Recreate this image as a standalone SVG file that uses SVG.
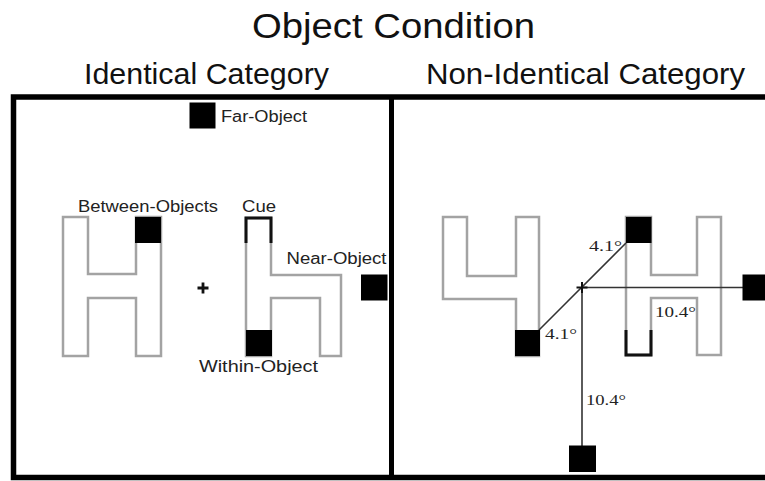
<svg xmlns="http://www.w3.org/2000/svg" width="765" height="481" viewBox="0 0 765 481">
<style>
.title{font-family:"Liberation Sans",Arial,sans-serif;fill:#111}
.lbl{font-family:"Liberation Sans",Arial,sans-serif;font-size:16px;fill:#222}
.deg{font-family:"Liberation Serif","Times New Roman",serif;font-size:15px;fill:#222}
.shape{fill:none;stroke:#a3a3a3;stroke-width:2.5;stroke-linejoin:miter}
.cue{fill:none;stroke:#111;stroke-width:3}
.sq{fill:#000}
.conn{stroke:#333;stroke-width:1.6;fill:none}
.frame{fill:none;stroke:#000;stroke-width:5.5}
</style>
<rect width="765" height="481" fill="#fff"/>

<text class="title" x="252" y="38" font-size="35" textLength="283" lengthAdjust="spacingAndGlyphs">Object Condition</text>
<text class="title" x="84" y="84" font-size="30" textLength="245" lengthAdjust="spacingAndGlyphs">Identical Category</text>
<text class="title" x="426" y="84" font-size="30" textLength="319" lengthAdjust="spacingAndGlyphs">Non-Identical Category</text>

<g id="frame">
<rect class="frame" x="13.5" y="97" width="760" height="380.5"/>
<line x1="391.5" y1="97" x2="391.5" y2="478" stroke="#000" stroke-width="5"/>
</g>

<g id="left-panel">
<g id="far-object">
<rect class="sq" x="189.5" y="102.5" width="26" height="26"/>
<text class="lbl" x="221" y="121.5" textLength="86" lengthAdjust="spacingAndGlyphs">Far-Object</text>
</g>
<g id="shape-H-left">
<path class="shape" d="M63,217 H88 V274 H136 V217 H161 V356 H136 V298 H88 V356 H63 Z"/>
</g>
<g id="between-objects">
<rect class="sq" x="135" y="217" width="26" height="26"/>
<text class="lbl" x="78" y="212" textLength="140" lengthAdjust="spacingAndGlyphs">Between-Objects</text>
</g>
<g id="fixation-left">
<path d="M197.5,288 H208.5 M203,282.5 V293.5" stroke="#111" stroke-width="2.8"/>
</g>
<g id="shape-h-right">
<path class="shape" d="M246,218 H271 V275 H341 V356 H320 V298 H271 V356 H246 Z"/>
<path class="cue" d="M246,243 V218 H271 V243"/>
<text class="lbl" x="242" y="212" textLength="34" lengthAdjust="spacingAndGlyphs">Cue</text>
</g>
<g id="within-object">
<rect class="sq" x="246" y="330" width="26" height="26"/>
<text class="lbl" x="199" y="372" textLength="119" lengthAdjust="spacingAndGlyphs">Within-Object</text>
</g>
<g id="near-object">
<rect class="sq" x="361" y="274.5" width="26.5" height="26"/>
<text class="lbl" x="286.5" y="264" textLength="100" lengthAdjust="spacingAndGlyphs">Near-Object</text>
</g>
</g>

<g id="right-panel">
<g id="shape-4">
<path class="shape" d="M443,217 H467 V276 H516 V217 H539 V356 H516 V299 H443 Z"/>
</g>
<g id="shape-H-right">
<path class="shape" d="M626,217 H651 V275 H697 V217 H721 V355 H697 V298 H651 V355 H626 Z"/>
<path class="cue" d="M626,330 V355 H651 V330"/>
</g>
<g id="connectors">
<line class="conn" x1="539" y1="330" x2="626" y2="243"/>
<line class="conn" x1="582" y1="287.5" x2="743" y2="287.5"/>
<line class="conn" x1="582" y1="287.5" x2="582" y2="446"/>
<path d="M576.5,287.5 H587.5 M582,282 V293" stroke="#111" stroke-width="2"/>
</g>
<g id="square-lower-left"><rect class="sq" x="515" y="330" width="25" height="26"/></g>
<g id="square-upper"><rect class="sq" x="626" y="217" width="25.5" height="26"/></g>
<g id="square-right"><rect class="sq" x="742.5" y="274.5" width="25" height="26"/></g>
<g id="square-bottom"><rect class="sq" x="569" y="445.5" width="27" height="26.5"/></g>
<text class="deg" x="589" y="251" textLength="33" lengthAdjust="spacingAndGlyphs">4.1°</text>
<text class="deg" x="545" y="339" textLength="32" lengthAdjust="spacingAndGlyphs">4.1°</text>
<text class="deg" x="655" y="317" textLength="41" lengthAdjust="spacingAndGlyphs">10.4°</text>
<text class="deg" x="586" y="405" textLength="40" lengthAdjust="spacingAndGlyphs">10.4°</text>
</g>
</svg>
